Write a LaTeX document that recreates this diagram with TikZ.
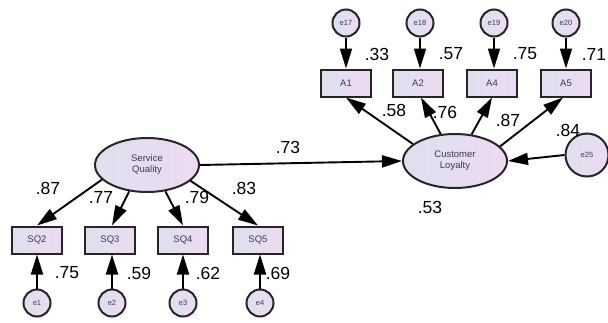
\documentclass[tikz,border=0pt]{standalone}
\usepackage{fontspec}
\setmainfont{Liberation Sans}
\usetikzlibrary{arrows.meta,shapes.geometric}
\definecolor{fillL}{HTML}{DEE0EE}
\definecolor{fillR}{HTML}{EEDAF2}
\definecolor{txt}{HTML}{3A3A55}
\tikzset{
  base/.style={draw=black!85, line width=2pt, left color=fillL, right color=fillR, text=txt},
  latent/.style={base, ellipse, minimum width=104pt, minimum height=54pt, inner sep=0pt,
    font=\fontsize{9.5}{11}\selectfont, align=center},
  observed/.style={base, rectangle, minimum width=50pt, minimum height=27pt, inner sep=0pt,
    font=\fontsize{9.5}{10}\selectfont},
  err/.style={base, circle, minimum size=27pt, inner sep=0pt, font=\fontsize{7.5}{8}\selectfont},
  bigerr/.style={base, circle, minimum size=43pt, inner sep=0pt, font=\fontsize{7.5}{8}\selectfont},
  path/.style={line width=1.9pt, -{Triangle[length=20pt,width=12pt]}},
  coef/.style={font=\fontsize{17.5}{18}\selectfont, inner sep=0pt}
}
\begin{document}
\begin{tikzpicture}[x=1pt,y=-1pt]
\useasboundingbox (0,0) rectangle (608,322);

% latent constructs
\node[latent] (sq) at (147,165) {Service\\Quality};
\node[latent] (cl) at (455,161) {Customer\\Loyalty};
\node[bigerr] (e25) at (587,155) {e25};

% indicators of Service Quality
\node[observed] (sq2) at (37,240) {SQ2};
\node[observed] (sq3) at (110,240) {SQ3};
\node[observed] (sq4) at (183,240) {SQ4};
\node[observed] (sq5) at (258,240) {SQ5};
\node[err] (e1) at (37,303) {e1};
\node[err] (e2) at (112,303) {e2};
\node[err] (e3) at (183,303) {e3};
\node[err] (e4) at (260,303) {e4};

% indicators of Customer Loyalty
\node[observed] (a1) at (346,83) {A1};
\node[observed] (a2) at (418,83) {A2};
\node[observed] (a4) at (492,83) {A4};
\node[observed] (a5) at (566,83) {A5};
\node[err] (e17) at (346,23) {e17};
\node[err] (e18) at (420,23) {e18};
\node[err] (e19) at (494,23) {e19};
\node[err] (e20) at (566,23) {e20};

% structural path
\draw[path] (sq.east) -- (cl.west);
\draw[path] (e25.west) -- (cl.east);

% measurement paths
\draw[path] (sq.198) -- (sq2.north);
\draw[path] (sq.236) -- ([xshift=2pt]sq3.north);
\draw[path] (sq.305) -- (sq4.north);
\draw[path] (sq.340) -- (sq5.north);
\draw[path] (cl.158) -- (a1.south);
\draw[path] (cl.118) -- ([xshift=3pt]a2.south);
\draw[path] (cl.58) -- (a4.south);
\draw[path] (cl.18) -- ([xshift=-3pt]a5.south);

% error terms
\draw[path] (e1) -- (sq2);
\draw[path] (e2) -- (e2 |- sq3.south);
\draw[path] (e3) -- (sq4);
\draw[path] (e4) -- (e4 |- sq5.south);
\draw[path] (e17) -- (a1);
\draw[path] (e18) -- (e18 |- a2.north);
\draw[path] (e19) -- (e19 |- a4.north);
\draw[path] (e20) -- (a5);

% coefficients
\node[coef] (c73) at (288,147) {.73};
\node[coef] (c53) at (430,207) {.53};
\node[coef] (c33) at (377,54) {.33};
\node[coef] (c57) at (451,54) {.57};
\node[coef] (c75a) at (525,54) {.75};
\node[coef] (c71) at (594,54) {.71};
\node[coef] (c58) at (394,110) {.58};
\node[coef] (c76) at (445,112) {.76};
\node[coef] (c87a) at (508,120) {.87};
\node[coef] (c84) at (568,130) {.84};
\node[coef] (c87) at (48,188) {.87};
\node[coef] (c77) at (101,197) {.77};
\node[coef] (c79) at (197,197) {.79};
\node[coef] (c83) at (244,188) {.83};
\node[coef] (c75) at (67,273) {.75};
\node[coef] (c59) at (139,273) {.59};
\node[coef] (c62) at (208,273) {.62};
\node[coef] (c69) at (278,273) {.69};
\end{tikzpicture}
\end{document}
